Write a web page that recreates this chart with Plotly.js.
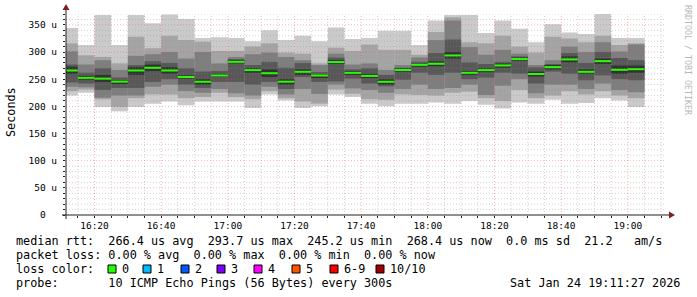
<!DOCTYPE html>
<html><head><meta charset="utf-8">
<script src="https://cdn.plot.ly/plotly-3.0.1.min.js"></script>
<style>html,body{margin:0;padding:0;background:#fff}#chart{width:697px;height:297px}</style>
</head><body><div id="chart"></div>
<script>
// interval end times (each sample covers the preceding 5 minutes)
const times = ['16:15','16:20','16:25','16:30','16:35','16:40','16:45','16:50','16:55','17:00',
 '17:05','17:10','17:15','17:20','17:25','17:30','17:35','17:40','17:45','17:50',
 '17:55','18:00','18:05','18:10','18:15','18:20','18:25','18:30','18:35','18:40',
 '18:45','18:50','18:55','19:00','19:05'].map(t => '2026-01-24 ' + t);

// sorted ping rtts (microseconds), p1 = fastest ... p10 = slowest
const p1  = [220,225,199,191,199,205,209,202,209,209,209,197,222,211,197,200,222,217,205,200,205,205,207,205,210,203,196,207,205,212,205,206,215,211,199];
const p2  = [228,231,213,199,215,222,222,215,217,225,217,213,228,215,209,205,231,223,213,212,222,221,220,225,227,215,210,230,215,220,228,222,228,220,215];
const p3  = [236,235,216,220,220,236,240,228,225,232,224,220,236,222,232,223,240,233,230,225,232,240,232,234,240,221,238,250,224,240,240,232,242,230,226];
const p4  = [244,242,230,234,234,245,250,240,234,245,245,240,245,232,254,245,246,251,242,237,249,262,258,262,250,253,262,260,242,264,260,248,257,250,248];
const p5  = [260,249,245,241,258,265,260,251,240,254,279,262,254,240,258,252,278,258,252,240,264,273,274,288,258,263,271,284,255,268,281,260,278,260,262];
const p6  = [273,256,258,248,272,277,272,257,250,260,285,270,268,250,268,259,285,265,260,250,270,279,283,300,265,270,279,290,264,276,292,268,288,275,275];
const p7  = [277,262,270,253,276,283,280,270,264,265,287,276,282,271,280,263,290,268,270,258,271,282,298,323,281,278,282,292,272,278,298,280,300,289,285];
const p8  = [301,277,285,267,293,296,300,288,300,279,291,296,299,291,285,276,297,277,279,267,276,290,322,358,309,295,304,297,276,285,310,300,318,301,314];
const p9  = [316,294,291,279,328,307,330,322,319,302,302,310,316,299,297,279,308,302,314,304,304,295,337,364,318,316,330,310,299,328,325,318,330,313,316];
const p10 = [344,313,368,313,368,353,369,361,326,327,326,320,340,322,330,320,345,324,326,339,339,313,358,368,368,335,358,343,318,351,336,333,370,326,326];
const median = [266,252.5,251,245.5,266,271,266,254,245.3,256.8,282,266.7,261,245.4,263.6,256.8,281.5,261.7,256,245.2,
 267,276.5,278.4,293.7,261.7,266.7,275.3,287,259.6,272.2,286.4,263.6,283.3,267.3,268.4];

const yTickVals = [0,50,100,150,200,250,300,350];
const yTickText = ['0\u00a0\u00a0','50 u','100 u','150 u','200 u','250 u','300 u','350 u'];

const lossLabels = ['0','1','2','3','4','5','6-9','10/10'];
const lossColors = ['#26ff00','#00b8ff','#0059ff','#7e00ff','#ff00ff','#ff5500','#ff0000','#a00000'];
const smokeColors = ['#cacaca','#a4a4a4','#7e7e7e','#585858','#323232'];

const P = [p1,p2,p3,p4,p5,p6,p7,p8,p9,p10];
const STEP = 300000;
const traces = [];
for (let k = 0; k < 5; k++) {
  const lo = P[k], hi = P[9-k];
  traces.push({type:'bar', x: times, base: lo, y: hi.map((v,i)=>v-lo[i]),
    width: STEP, offset: -STEP, marker:{color: smokeColors[k], line:{width:0}},
    hoverinfo:'skip', showlegend:false});
}
const sw = 1.85;
traces.push({type:'bar', x: times, base: median.map(v=>v-sw), y: median.map(()=>2*sw),
  width: STEP, offset: -STEP, marker:{color: lossColors[0], line:{width:0}},
  hoverinfo:'skip', showlegend:false});

const L = 66, R = 666, T = 14, B = 215;
const px = x => (x-L)/(R-L);
const py = y => (B-y)/(B-T);
const nb = s => s.replace(/ /g,'\u00a0');
const FONT = 'DejaVu Sans Mono';

const shapes = [];
const dotted = '1px,2px';
const minorCol = 'rgba(143,143,143,0.4)', majorCol = 'rgba(222,79,79,0.42)';
for (let v = 10; v <= 370; v += 10) {
  const major = v % 50 === 0;
  shapes.push({type:'line', layer:'above', xref:'paper', yref:'y', x0:0, x1:1, y0:v, y1:v,
    line:{color: major ? majorCol : minorCol, width:1, dash:dotted}});
}
const t0 = Date.UTC(2026,0,24,16,15,0);
for (let t = t0; t <= Date.UTC(2026,0,24,19,10,0); t += STEP) {
  const major = ((t - Date.UTC(2026,0,24,16,0,0)) / STEP) % 4 === 0;
  shapes.push({type:'line', layer:'above', xref:'x', yref:'paper', x0:t, x1:t, y0:0, y1:1,
    line:{color: major ? majorCol : minorCol, width:1, dash:dotted}});
}
// axes with arrows
shapes.push({type:'line', layer:'above', xref:'paper', yref:'paper', x0:px(62), x1:px(670), y0:0, y1:0, line:{color:'#202020', width:1}});
shapes.push({type:'line', layer:'above', xref:'paper', yref:'paper', x0:0, x1:0, y0:py(219), y1:py(9), line:{color:'#202020', width:1}});
shapes.push({type:'path', layer:'above', xref:'paper', yref:'paper',
  path:`M ${px(669)},${py(211.5)} L ${px(675)},${py(215)} L ${px(669)},${py(218.5)} Z`, fillcolor:'#801f1f', line:{width:0}});
shapes.push({type:'path', layer:'above', xref:'paper', yref:'paper',
  path:`M ${px(62.5)},${py(10)} L ${px(66)},${py(4)} L ${px(69.5)},${py(10)} Z`, fillcolor:'#801f1f', line:{width:0}});

const LF = 11.8;
const annotations = [];
const txt = (x, y, s, opts={}) => annotations.push(Object.assign({xref:'paper', yref:'paper', x:px(x), y:py(y),
  xanchor:'left', yanchor:'middle', showarrow:false, text:nb(s), font:{family:FONT, size:LF, color:'#000'}}, opts));
txt(14, 241, 'median rtt:  266.4 us avg  293.7 us max  245.2 us min  268.4 us now  0.0 ms sd  21.2   am/s');
txt(14, 255, 'packet loss: 0.00 % avg  0.00 % max  0.00 % min  0.00 % now');
txt(14, 269, 'loss color:');
txt(14, 283, 'probe:       10 ICMP Echo Pings (56 Bytes) every 300s');
txt(682, 283, 'Sat Jan 24 19:11:27 2026', {xanchor:'right'});
const boxX = [108,143,181,217,254,292,330,376];
lossLabels.forEach((lab, i) => {
  shapes.push({type:'rect', layer:'above', xref:'paper', yref:'paper', x0:px(boxX[i]), x1:px(boxX[i]+8),
    y0:py(265), y1:py(273), fillcolor: lossColors[i], line:{color:'#000', width:1}});
  txt(boxX[i]+12, 269, lab);
});
annotations.push({xref:'paper', yref:'paper', x:px(11), y:py(112), xanchor:'center', yanchor:'middle',
  showarrow:false, textangle:-90, text:'Seconds', font:{family:FONT, size:LF, color:'#000'}});
annotations.push({xref:'paper', yref:'paper', x:px(688), y:py(60), xanchor:'center', yanchor:'middle',
  showarrow:false, textangle:90, text:nb('RRDTOOL / TOBI OETIKER'), font:{family:FONT, size:8.3, color:'#b8b8b8'}});

const layout = {
  width:697, height:297, margin:{l:L, r:697-R, t:T, b:297-B},
  paper_bgcolor:'#fff', plot_bgcolor:'#fff', barmode:'overlay', showlegend:false,
  font:{family:FONT, size:9.5, color:'#000'},
  xaxis:{type:'date', range:['2026-01-24 16:11:27','2026-01-24 19:11:27'], tickformat:'%H:%M',
    tick0:'2026-01-24 16:00', dtick:1200000, showgrid:false, zeroline:false, showline:false,
    ticks:'outside', ticklen:2, tickcolor:'#202020', tickfont:{family:FONT, size:9.5, color:'#000'},
    minor:{dtick:STEP, tick0:'2026-01-24 16:00', ticks:'outside', ticklen:2, tickcolor:'#202020', showgrid:false}},
  yaxis:{range:[0,370], tickmode:'array', tickvals:yTickVals, ticktext:yTickText, showgrid:false, zeroline:false,
    showline:false, ticks:'outside', ticklen:2, tickcolor:'#202020', ticklabelstandoff:4,
    tickfont:{family:FONT, size:9.5, color:'#000'},
    minor:{tickmode:'linear', tick0:0, dtick:10, ticks:'outside', ticklen:2, tickcolor:'#202020', showgrid:false}},
  shapes, annotations
};
Plotly.newPlot('chart', traces, layout, {staticPlot:true, displayModeBar:false});
</script></body></html>
